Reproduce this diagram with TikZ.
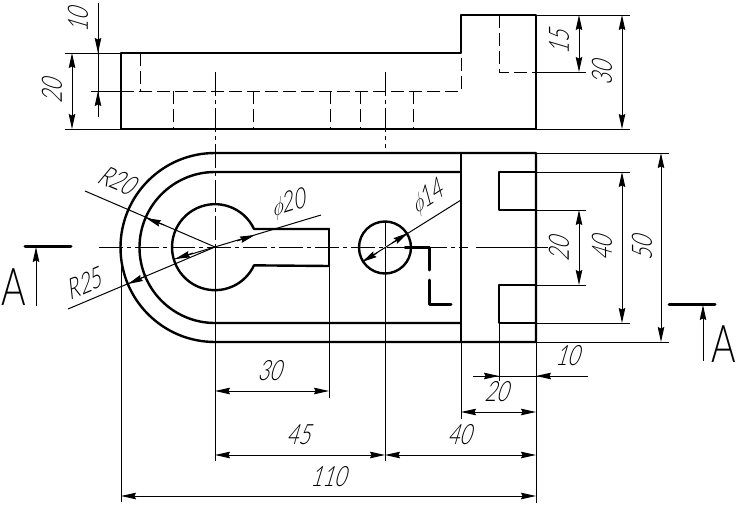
\documentclass[tikz,border=0pt]{standalone}
\usepackage{fontspec}
\usetikzlibrary{arrows.meta}
\newfontfamily\dimfont{Lato Light}
\tikzset{
  x=1pt,y=1pt,
  main/.style={line width=2.4pt,line cap=round,line join=round},
  hid/.style={line width=1pt,dash pattern=on 13pt off 5pt},
  thin line/.style={line width=1pt},
  axisline/.style={line width=1pt,dash pattern=on 24pt off 4pt on 4pt off 4pt},
  tip/.tip={Stealth[length=15pt,width=6.5pt,inset=1.5pt]},
  dimtxt/.style={rotate=#1,transform shape,xslant=.3,xscale=.72,inner sep=0pt,font=\dimfont\fontsize{28}{28}\selectfont},
  dimtxt/.default=0,
  secletter/.style={transform shape,xscale=.72,inner sep=0pt,font=\dimfont\fontsize{52}{52}\selectfont},
}
\begin{document}
\begin{tikzpicture}
\useasboundingbox (0,0) rectangle (740,-506);
\fill[white] (0,0) rectangle (740,-506);
% top view outline
\draw[main] (121,-53) -- (461,-53) -- (461,-15) -- (536,-15) -- (536,-129) -- (121,-129) -- cycle;
% hidden lines
\draw[hid] (121,-91) -- (461,-91) -- (461,-53);
\draw[hid] (140,-53) -- (140,-91);
\foreach \hx in {173,253,330,360,413} \draw[hid] (\hx,-91) -- (\hx,-129);
\draw[hid] (499,-15) -- (499,-72) -- (536,-72);
% plan view outline
\draw[main] (536,-153) -- (215,-153) arc (90:270:94.5) -- (536,-342) -- cycle;
\draw[main] (461,-172) -- (215,-172) arc (90:270:75.5) -- (461,-323);
\draw[main] (461,-153) -- (461,-342);
\draw[main] (536,-172) -- (499,-172) -- (499,-210) -- (536,-210);
\draw[main] (536,-285) -- (499,-285) -- (499,-323) -- (536,-323);
\draw[main] (329,-229) -- (329,-266);
\draw[main] (329,-229) -- (254,-229) arc (25:335:43) -- (329,-266);
\draw[main] (385,-247.5) circle (26);
% section trace
\draw[main,line width=3pt] (405,-247) -- (429,-247) -- (429,-270);
\draw[main,line width=3pt] (429,-280) -- (429,-304) -- (451,-304);
% centre lines
\draw[axisline] (99,-247) -- (461,-247);
\draw[thin line] (461,-247) -- (468,-247);
\draw[thin line] (476,-247) -- (548,-247);
\draw[axisline] (215,-72) -- (215,-247);
\draw[thin line] (215,-247) -- (215,-461);
\draw[axisline] (385,-72) -- (385,-148);
\draw[axisline] (385,-222) -- (385,-247);
\draw[thin line] (385,-247) -- (385,-461);
% extension lines, top view
\draw[thin line] (65,-53) -- (121,-53);
\draw[thin line] (65,-129) -- (121,-129);
\draw[thin line] (91,-91) -- (121,-91);
\draw[thin line] (536,-15) -- (630,-15);
\draw[thin line] (536,-129) -- (630,-129);
\draw[thin line] (536,-72) -- (586,-72);
% extension lines, plan view
\draw[thin line] (536,-153) -- (669,-153);
\draw[thin line] (536,-342) -- (669,-342);
\draw[thin line] (536,-172) -- (630,-172);
\draw[thin line] (536,-323) -- (630,-323);
\draw[thin line] (536,-210) -- (586,-210);
\draw[thin line] (536,-285) -- (586,-285);
\draw[thin line] (121,-247) -- (121,-502);
\draw[thin line] (329,-266) -- (329,-398);
\draw[thin line] (461,-342) -- (461,-419);
\draw[thin line] (499,-323) -- (499,-381);
\draw[thin line] (536,-342) -- (536,-503);
% dimension lines
\draw[thin line] (98,-3) -- (98,-117);
\draw[thin line,-tip] (98,-35) -- (98,-53);
\draw[thin line,-tip] (98,-109) -- (98,-91);
\draw[thin line,tip-tip] (72,-53) -- (72,-129);
\draw[thin line,tip-tip] (579,-15) -- (579,-72);
\draw[thin line,tip-tip] (622,-15) -- (622,-129);
\draw[thin line,tip-tip] (661,-153) -- (661,-342);
\draw[thin line,tip-tip] (622,-172) -- (622,-323);
\draw[thin line,tip-tip] (579,-210) -- (579,-285);
\draw[thin line,tip-tip] (215,-391) -- (329,-391);
\draw[thin line,tip-tip] (215,-455) -- (385,-455);
\draw[thin line,tip-tip] (385,-455) -- (536,-455);
\draw[thin line,tip-tip] (461,-412) -- (536,-412);
\draw[thin line,tip-tip] (121,-496) -- (536,-496);
\draw[thin line] (473,-376) -- (588,-376);
\draw[thin line,-tip] (482,-376) -- (499,-376);
\draw[thin line,-tip] (553,-376) -- (536,-376);
% radius and diameter leaders
\draw[thin line] (85,-191) -- (215,-247);
\draw[thin line,-tip] (164,-225) -- (146,-218);
\draw[thin line] (68,-309) -- (215,-247);
\draw[thin line,-tip] (146,-276) -- (128,-284);
\draw[thin line] (175,-259) -- (321,-215);
\draw[thin line,-tip] (237,-241) -- (255,-235);
\draw[thin line,-tip] (193,-253) -- (175,-259);
\draw[thin line] (362,-262) -- (461,-200);
\draw[thin line,-tip] (392,-243) -- (408,-233);
\draw[thin line,-tip] (377,-253) -- (362,-262);
% section arrows
\draw[main,line width=3pt] (25,-246) -- (71,-246);
\draw[thin line,-tip] (36,-306) -- (36,-247);
\draw[main,line width=3pt] (669,-304) -- (715,-304);
\draw[thin line,-tip] (703,-361) -- (703,-305);
\node[secletter] (secAleft) at (14,-287) {A};
\node[secletter] (secAright) at (724,-344) {A};
% labels
\node[dimtxt=90] (t10a) at (78,-18) {10};
\node[dimtxt=90] (t20a) at (52,-89) {20};
\node[dimtxt=90] (t15) at (559,-40) {15};
\node[dimtxt=90] (t30a) at (602,-71) {30};
\node[dimtxt=90] (t20b) at (559,-247) {20};
\node[dimtxt=90] (t40a) at (602,-246) {40};
\node[dimtxt=90] (t50) at (642,-246) {50};
\node[dimtxt=-23] (tR20) at (119,-181) {R20};
\node[dimtxt=23] (tR25) at (86,-283) {R25};
\node[dimtxt=17] (tphi20) at (290,-204) {$\phi$20};
\node[dimtxt=32] (tphi14) at (429,-197) {$\phi$14};
\node[dimtxt] (t30b) at (272,-371) {30};
\node[dimtxt] (t45) at (301,-435) {45};
\node[dimtxt] (t40b) at (462,-435) {40};
\node[dimtxt] (t110) at (331,-477) {110};
\node[dimtxt] (t20c) at (499,-392) {20};
\node[dimtxt] (t10b) at (570,-356) {10};
\end{tikzpicture}
\end{document}
